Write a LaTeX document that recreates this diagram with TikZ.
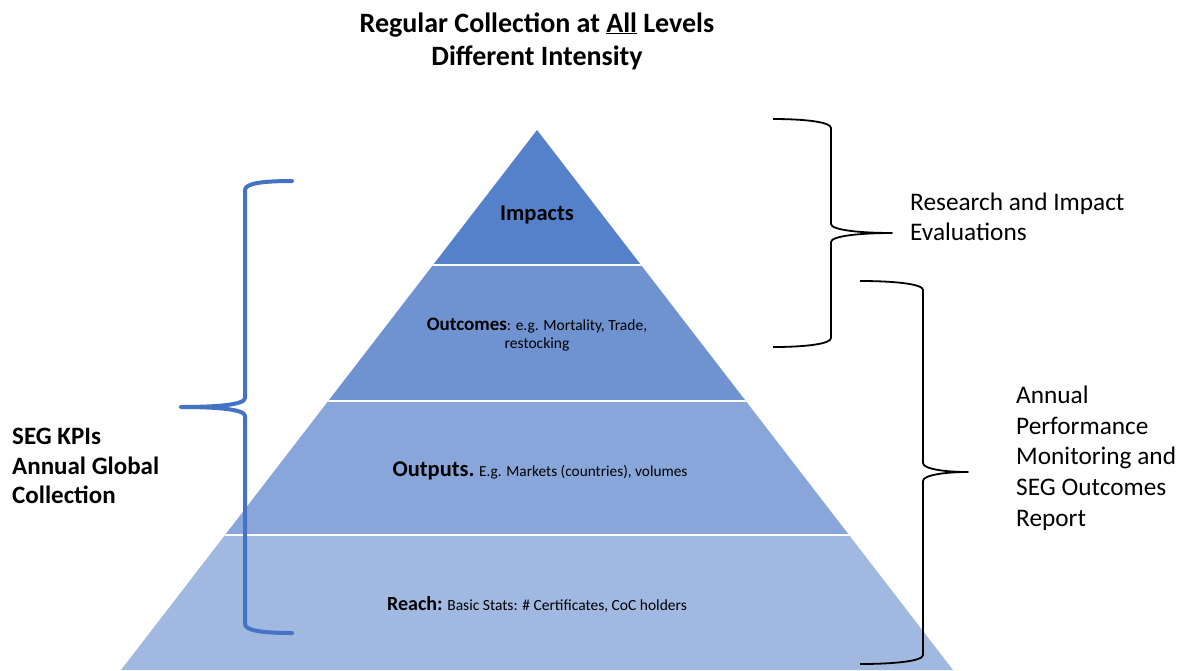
\documentclass[tikz,border=0pt]{standalone}
\usepackage{fontspec}
\setmainfont{Carlito}
\definecolor{cImp}{RGB}{85,128,202}
\definecolor{cOutc}{RGB}{111,147,209}
\definecolor{cOutp}{RGB}{136,166,217}
\definecolor{cReach}{RGB}{161,184,225}
\definecolor{bracebl}{RGB}{68,114,196}
\tikzset{
  lbl/.style={inner sep=0pt, text=black},
  bluebrace/.style={draw=bracebl, line width=4pt, line join=round, line cap=round},
  blackbrace/.style={draw=black, line width=1.8pt, line join=round},
}
\newcommand{\fs}[2]{\fontsize{#1}{#2}\selectfont}
\begin{document}
\begin{tikzpicture}[x=1pt,y=-1pt]
\useasboundingbox (0,0) rectangle (1182,670);
% pyramid
\begin{scope}
\clip (537,130) -- (121,670) -- (953,670) -- cycle;
\fill[cImp] (0,120) rectangle (1182,265);
\fill[cOutc] (0,265) rectangle (1182,401);
\fill[cOutp] (0,401) rectangle (1182,535);
\fill[cReach] (0,535) rectangle (1182,680);
\draw[white, line width=2pt] (0,265) -- (1182,265) (0,401) -- (1182,401) (0,535) -- (1182,535);
\end{scope}
% title
\node[lbl, align=center, font=\bfseries\fs{28}{33}] (title) at (537,41) {Regular Collection at \underline{All} Levels\\Different Intensity};
% pyramid labels
\node[lbl, font=\bfseries\fs{22.5}{24}] (imp) at (537,215) {Impacts};
\node[lbl, align=center, font=\fs{15.5}{18}] (outc) at (537,335) {{\bfseries\fs{19}{18}Outcomes}: e.g. Mortality, Trade,\\restocking};
\node[lbl, font=\fs{15.3}{18}] (outp) at (540,471) {{\bfseries\fs{22.5}{24}Outputs.} E.g. Markets (countries), volumes};
\node[lbl, font=\fs{15.5}{18}] (reach) at (537,604) {{\bfseries\fs{20}{18}Reach:} Basic Stats: \# Certificates, CoC holders};
% side labels
\node[lbl, anchor=west, align=left, font=\bfseries\fs{25}{29.5}] (seg) at (12,466) {SEG KPIs\\Annual Global\\Collection};
\node[lbl, anchor=west, align=left, font=\fs{25.3}{30}] (res) at (910,217) {Research and Impact\\Evaluations};
\node[lbl, anchor=west, align=left, font=\fs{25.3}{30.7}] (ann) at (1016,458) {Annual\\Performance\\Monitoring and\\SEG Outcomes\\Report};
% blue brace (opening right, tip left)
\draw[bluebrace] (292,181) .. controls (265,181) and (245,183) .. (245,190)
  -- (245,398) .. controls (245,405) and (215,407) .. (181,407)
  .. controls (215,407) and (245,409) .. (245,416)
  -- (245,624) .. controls (245,631) and (265,633) .. (292,633);
% black brace 1
\draw[blackbrace] (773,119) .. controls (805,119) and (831,122) .. (831,128)
  -- (831,224) .. controls (831,230) and (860,233) .. (892,233)
  .. controls (860,233) and (831,236) .. (831,242)
  -- (831,338) .. controls (831,344) and (805,347) .. (773,347);
% black brace 2
\draw[blackbrace] (860,281) .. controls (895,281) and (923,284) .. (923,290)
  -- (923,463) .. controls (923,469) and (945,472) .. (968,472)
  .. controls (945,472) and (923,475) .. (923,481)
  -- (923,655) .. controls (923,661) and (895,664) .. (860,664);
\end{tikzpicture}
\end{document}
